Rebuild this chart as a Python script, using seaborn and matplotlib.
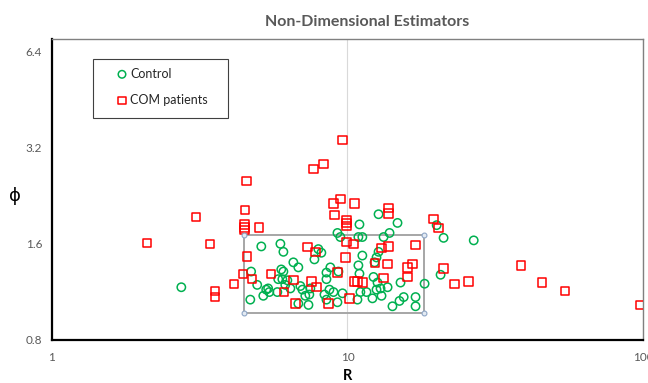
import pandas as pd
import matplotlib
matplotlib.use("Agg")
import matplotlib.pyplot as plt
import matplotlib.ticker as mticker
from matplotlib.patches import Rectangle
import seaborn as sns

# --- Data (R, phi) ---
control_R = [2.74, 4.69, 4.72, 4.95, 5.11, 5.19, 5.31, 5.39, 5.44, 5.79,
             5.83, 5.93, 5.97, 6.07, 6.07, 6.16, 6.26, 6.56, 6.82, 6.82,
             6.93, 7.04, 7.38, 7.43, 7.49, 7.73, 7.97, 8.16, 8.36, 8.49,
             8.49, 8.69, 8.75, 8.97, 9.25, 9.46, 9.25, 9.32, 9.62, 10.89,
             11.23, 10.98, 11.23, 10.89, 10.98, 10.81, 11.06, 11.6, 12.15, 12.25,
             12.35, 12.54, 12.74, 12.64, 12.54, 12.94, 13.04, 13.25, 13.88, 12.74,
             14.77, 13.67, 15.12, 14.2, 15.0, 15.5, 17.0, 17.0, 18.24, 20.04,
             21.15, 20.66, 26.75, 7.20, 8.49, 6.02, 6.41]
control_phi = [1.17, 1.07, 1.31, 1.19, 1.57, 1.10, 1.15, 1.16, 1.13, 1.13,
               1.24, 1.60, 1.33, 1.51, 1.31, 1.19, 1.23, 1.40, 1.35, 1.04,
               1.18, 1.15, 1.03, 1.11, 1.16, 1.43, 1.54, 1.50, 1.11, 1.30,
               1.07, 1.15, 1.35, 1.13, 1.73, 1.68, 1.05, 1.31, 1.12, 1.68,
               1.68, 1.84, 1.47, 1.37, 1.29, 1.07, 1.13, 1.13, 1.08, 1.26,
               1.40, 1.45, 1.51, 1.21, 1.15, 1.16, 1.10, 1.68, 1.73, 1.98,
               1.86, 1.17, 1.21, 1.02, 1.06, 1.09, 1.09, 1.02, 1.20, 1.83,
               1.67, 1.28, 1.64, 1.10, 1.24, 1.24, 1.16]

com_R = [2.10, 3.08, 3.43, 3.57, 3.57, 4.14, 4.44, 4.48, 4.48, 4.48,
         4.55, 4.51, 4.58, 4.76, 5.03, 5.52, 6.11, 6.56, 6.67, 7.32,
         7.67, 7.79, 7.55, 7.85, 8.29, 8.62, 8.97, 9.03, 9.25, 9.46,
         9.62, 9.84, 9.93, 9.93, 9.93, 9.93, 10.16, 10.48, 10.56, 10.56,
         10.81, 11.23, 12.4, 13.04, 13.25, 13.67, 13.77, 13.77, 13.77, 15.96,
         15.96, 16.60, 17.0, 19.57, 20.34, 21.15, 23.05, 25.70, 38.6, 45.5,
         54.4, 98.0]
com_phi = [1.61, 1.94, 1.60, 1.14, 1.09, 1.20, 1.29, 1.84, 1.80, 1.77,
           2.51, 2.04, 1.46, 1.24, 1.80, 1.29, 1.13, 1.23, 1.04, 1.56,
           2.74, 1.51, 1.22, 1.17, 2.84, 1.04, 2.14, 1.97, 1.30, 2.21,
           3.38, 1.45, 1.90, 1.86, 1.82, 1.62, 1.08, 1.60, 2.14, 1.22,
           1.22, 1.21, 1.39, 1.55, 1.25, 1.38, 1.57, 2.07, 1.99, 1.35,
           1.26, 1.38, 1.59, 1.91, 1.79, 1.34, 1.20, 1.22, 1.37, 1.21,
           1.14, 1.03]

# selection box drawn over the central cluster
box_R = [4.48, 18.2]
box_phi = [0.97, 1.70]

y_ticks = [0.8, 1.6, 3.2, 6.4]
y_minor = [2.4, 4.0, 4.8, 5.6]
x_ticks = [1, 10, 100]

GREEN = "#00B050"
RED = "#FF0000"
GREY_TXT = "#595959"

control_df = pd.DataFrame({"R": control_R, "phi": control_phi})
com_df = pd.DataFrame({"R": com_R, "phi": com_phi})

sns.set_theme(style="white")
plt.rcParams["font.family"] = ["Lato", "DejaVu Sans"]

fig = plt.figure(figsize=(6.48, 3.83), dpi=100)
ax = fig.add_axes([0.0802, 0.1123, 0.9120, 0.7859])

sns.scatterplot(data=control_df, x="R", y="phi", ax=ax, marker="o", s=36,
                color=GREEN, facecolor="none", edgecolor=GREEN, linewidth=1.1,
                label="Control", zorder=3)
sns.scatterplot(data=com_df, x="R", y="phi", ax=ax, marker="s", s=36,
                color=RED, facecolor="none", edgecolor=RED, linewidth=1.1,
                label="COM patients", zorder=4)

# --- selection rectangle with corner handles ---
ax.add_patch(Rectangle((box_R[0], box_phi[0]), box_R[1] - box_R[0],
                       box_phi[1] - box_phi[0], fill=False,
                       edgecolor="#a6a6a6", linewidth=1.4, zorder=2))
ax.plot([box_R[0], box_R[0], box_R[1], box_R[1]],
        [box_phi[0], box_phi[1], box_phi[0], box_phi[1]],
        linestyle="none", marker="o", ms=3.5, mfc="#e4ebf3", mec="#8ea6c6",
        mew=0.8, zorder=5)

# --- axes scales ---
ax.set_xscale("log")
ax.set_yscale("log", base=2)
ax.set_xlim(1, 100)
ax.set_ylim(0.8, 7.0)

ax.set_xticks(x_ticks)
ax.set_xticklabels([str(v) for v in x_ticks])
ax.xaxis.set_minor_locator(mticker.LogLocator(base=10, subs=range(2, 10)))
ax.xaxis.set_minor_formatter(mticker.NullFormatter())
ax.set_yticks(y_ticks)
ax.set_yticklabels([f"{v:.1f}" for v in y_ticks])
ax.set_yticks(y_minor, minor=True)
ax.yaxis.set_minor_formatter(mticker.NullFormatter())

ax.tick_params(axis="both", which="both", direction="in", color="black",
               labelcolor=GREY_TXT, labelsize=8.5, width=1.0)
ax.tick_params(axis="both", which="major", length=4)
ax.tick_params(axis="both", which="minor", length=3)
ax.tick_params(axis="x", pad=9)
ax.tick_params(axis="y", pad=7)

ax.xaxis.grid(True, which="major", color="#d9d9d9", linewidth=0.8)
ax.yaxis.grid(False)
ax.set_axisbelow(True)

for side in ["left", "bottom"]:
    ax.spines[side].set_color("black")
    ax.spines[side].set_linewidth(1.6)
for side in ["top", "right"]:
    ax.spines[side].set_color("#808080")
    ax.spines[side].set_linewidth(1.0)

ax.set_xlabel("R", fontsize=10.5, fontweight="bold", color="black")
ax.xaxis.set_label_coords(0.5, -0.098)
ax.set_ylabel("ϕ", fontsize=13, rotation=0, color="black",
              family=["DejaVu Sans"], ha="center", va="center")
ax.yaxis.set_label_coords(-0.063, 0.478)

fig.text(0.5664, 0.9433, "Non-Dimensional Estimators", ha="center",
         va="center", fontsize=11.5, fontweight="bold", color=GREY_TXT)

# --- legend: entries without frame, box drawn separately ---
ax.legend(loc="upper left", bbox_to_anchor=(0.1079, 0.905), frameon=False,
          borderpad=0, borderaxespad=0, handlelength=1.0, handletextpad=0.15,
          labelspacing=1.15, fontsize=9, markerscale=0.9)
ax.add_patch(Rectangle((0.0694, 0.7375), 0.2284, 0.196, transform=ax.transAxes,
                       fill=False, edgecolor="#404040", linewidth=0.8,
                       zorder=6))

fig.savefig("out.png", dpi=100)
